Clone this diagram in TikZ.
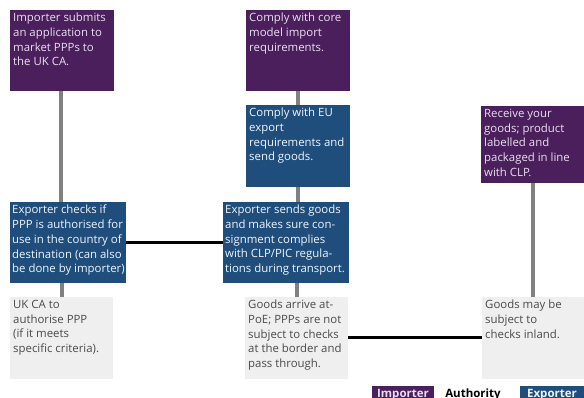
\documentclass[tikz,border=0pt]{standalone}
\usepackage{fontspec}
\setmainfont{Open Sans}
\definecolor{impc}{HTML}{4A1F5C}
\definecolor{expc}{HTML}{1F4E7D}
\definecolor{authc}{HTML}{EFEFEF}
\definecolor{imptxt}{HTML}{EADFF0}
\definecolor{exptxt}{HTML}{F0F4FA}
\definecolor{authtxt}{HTML}{4A4A4A}
\definecolor{conn}{HTML}{808080}
\tikzset{
  x=1pt, y=-1pt,
  stepbox/.style={anchor=north west, inner sep=0pt, outer sep=0pt},
  impbox/.style={stepbox, fill=impc},
  expbox/.style={stepbox, fill=expc},
  authbox/.style={stepbox, fill=authc},
  txt/.style={anchor=north west, inner sep=0pt, align=left, font=\fontsize{11.4}{14.7}\selectfont},
  imptext/.style={txt, text=imptxt},
  exptext/.style={txt, text=exptxt},
  authtext/.style={txt, text=authtxt},
  vconn/.style={draw=conn, line width=4pt},
  hconn/.style={draw=black, line width=3pt},
  legbox/.style={anchor=north west, inner sep=0pt, outer sep=0pt, font=\fontsize{11.5}{12}\selectfont\bfseries}
}
\begin{document}
\begin{tikzpicture}
\useasboundingbox (0,0) rectangle (584,397);
\clip (0,0) rectangle (584,397);
\fill[white] (0,0) rectangle (584,397);
% boxes
\node[impbox, minimum width=104pt, minimum height=81pt] (b1) at (10,10) {};
\node[impbox, minimum width=104pt, minimum height=81pt] (b2) at (246,10) {};
\node[expbox, minimum width=104pt, minimum height=82pt] (b3) at (246,105) {};
\node[impbox, minimum width=103pt, minimum height=77pt] (b4) at (481,106) {};
\node[expbox, minimum width=116pt, minimum height=81pt] (b5) at (10,202) {};
\node[expbox, minimum width=126pt, minimum height=81pt] (b6) at (223,202) {};
\node[authbox, minimum width=103pt, minimum height=82pt] (b7) at (10,297) {};
\node[authbox, minimum width=103pt, minimum height=82pt] (b8) at (245,297) {};
\node[authbox, minimum width=102pt, minimum height=82pt] (b9) at (482,297) {};
% texts
\node[imptext] (t1) at ([shift={(3,3)}]b1.north west) {Importer submits\\an application to\\market PPPs to\\the UK CA.};
\node[imptext] (t2) at ([shift={(3,3)}]b2.north west) {Comply with core\\model import\\requirements.};
\node[exptext] (t3) at ([shift={(3,3)}]b3.north west) {Comply with EU\\export\\requirements and\\send goods.};
\node[imptext] (t4) at ([shift={(3,3)}]b4.north west) {Receive your\\goods; product\\labelled and\\packaged in line\\with CLP.};
\node[exptext] (t5) at ([shift={(2,3)}]b5.north west) {Exporter checks if\\PPP is authorised for\\use in the country of\\destination (can also\\be done by importer)};
\node[exptext] (t6) at ([shift={(2,3)}]b6.north west) {Exporter sends goods\\and makes sure con-\\signment complies\\with CLP/PIC regula-\\tions during transport.};
\node[authtext] (t7) at ([shift={(3,3)}]b7.north west) {UK CA to\\authorise PPP\\(if it meets\\specific criteria).};
\node[authtext] (t8) at ([shift={(3,3)}]b8.north west) {Goods arrive at-\\PoE; PPPs are not\\subject to checks\\at the border and\\pass through.};
\node[authtext] (t9) at ([shift={(3,3)}]b9.north west) {Goods may be\\subject to\\checks inland.};
% connectors
\draw[vconn] ([xshift=-1pt]b1.south) -- ([xshift=-1pt]b1.south |- b5.north);
\draw[vconn] (b7.north |- b5.south) -- (b7.north);
\draw[vconn] (b2.south) -- (b2.south |- b3.north);
\draw[vconn] (b3.south) -- (b3.south |- b6.north);
\draw[vconn] (b8.north |- b6.south) -- (b8.north);
\draw[vconn] (b4.south) -- (b4.south |- b9.north);
\draw[hconn] (b5.east) -- (b6.west);
\draw[hconn] ([yshift=1pt]b8.east) -- ([yshift=1pt]b8.east -| b9.west);
% legend
\node[legbox, fill=impc, text=imptxt, minimum width=62pt, minimum height=18pt] (limp) at (372,386) {\raisebox{-3pt}{Importer}};
\node[legbox, text=black, minimum width=62pt, minimum height=18pt] (lauth) at (442,386) {\raisebox{-3pt}{Authority}};
\node[legbox, fill=expc, text=exptxt, minimum width=64pt, minimum height=18pt] (lexp) at (520,386) {\raisebox{-3pt}{Exporter}};
\end{tikzpicture}
\end{document}
